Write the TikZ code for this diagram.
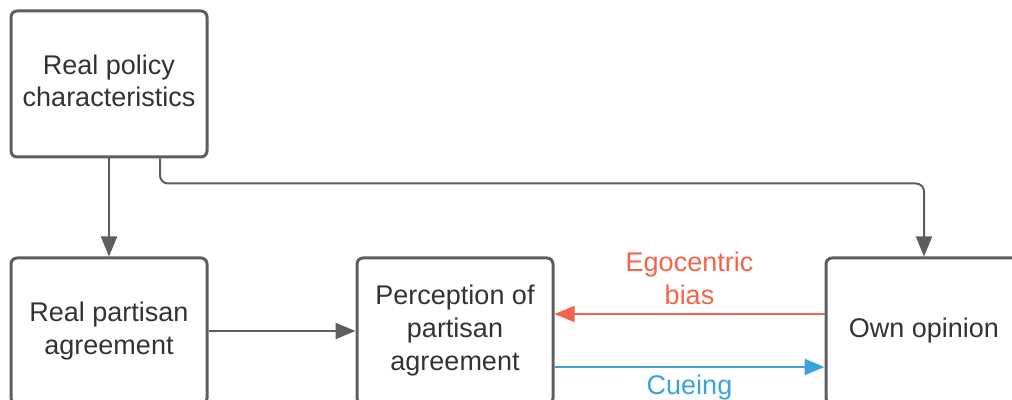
\documentclass[tikz,border=0pt]{standalone}
\usepackage{fontspec}
\setmainfont{Liberation Sans}
\usetikzlibrary{arrows.meta}
\definecolor{boxgray}{HTML}{5E5E5E}
\definecolor{txtgray}{HTML}{333333}
\definecolor{egored}{HTML}{F5634A}
\definecolor{cueblue}{HTML}{3AA3DF}
\begin{document}
\begin{tikzpicture}[x=0.5pt,y=-0.5pt,
    box/.style={draw=boxgray,line width=1.5pt,rounded corners=3pt,
      minimum width=98pt,minimum height=73pt,align=center,
      text=txtgray,font=\fontsize{13.5}{16.5}\selectfont},
    link/.style={draw=boxgray,line width=1pt,
      -{Triangle[length=10pt,width=8pt]}},
    lbl/.style={align=center,font=\fontsize{13.5}{16.5}\selectfont}]
  \useasboundingbox (0,0) rectangle (1012,400);

  \node[box] (policy) at (109,84) {\raisebox{2pt}{\begin{tabular}{@{}c@{}}Real policy\\[-0.5pt]characteristics\end{tabular}}};
  \node[box] (realagr) at (109,331) {Real partisan\\agreement};
  \node[box] (percagr) at (455,331) {Perception of\\partisan\\agreement};
  \node[box] (opinion) at (924,331) {Own opinion};

  \draw[link] (policy) -- (realagr);
  \draw[link,rounded corners=4pt] ([xshift=25.5pt]policy.south) -- ++(0,25) -| (opinion.north);
  \draw[link] (realagr) -- (percagr);

  \draw[link,draw=egored,fill=egored] ([yshift=8.5pt]opinion.west) -- ([yshift=8.5pt]percagr.east)
    node[midway,above=1pt,lbl,text=egored] {Egocentric\\bias};
  \draw[link,draw=cueblue,fill=cueblue] ([yshift=-18pt]percagr.east) -- ([yshift=-18pt]opinion.west)
    node[midway,below=0pt,lbl,text=cueblue] {Cueing};
\end{tikzpicture}
\end{document}
